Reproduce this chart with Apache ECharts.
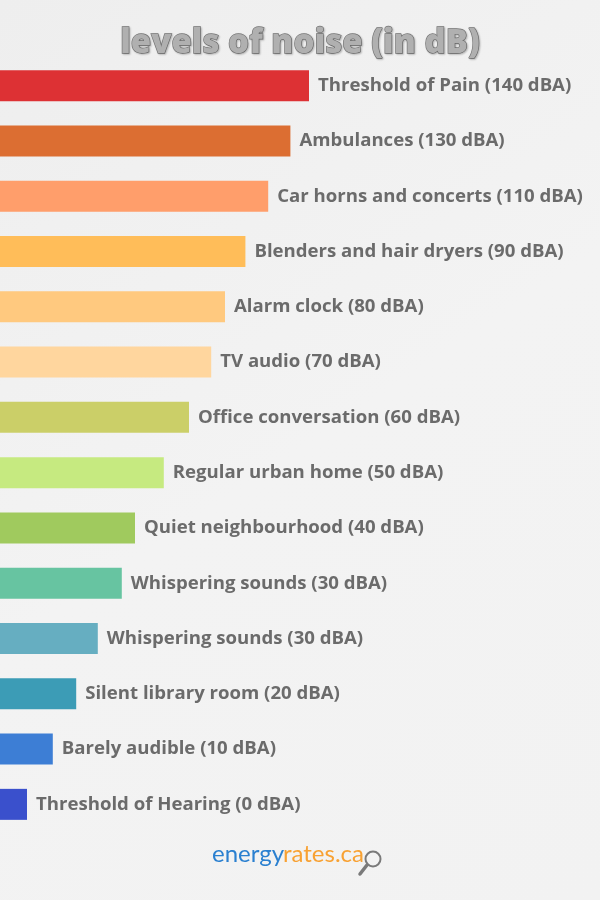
<!DOCTYPE html>
<html>
<head>
    <meta charset="utf-8">
    <title>levels of noise</title>
    <script src="https://cdn.jsdelivr.net/npm/echarts@6/dist/echarts.min.js"></script>
    <style>
        html, body { margin: 0; padding: 0; }
    </style>
</head>
<body>
    <div id="main" style="width: 600px;height:900px;"></div>
<script type="text/javascript">
    // sources, loudest first
    var sources = ['Threshold of Pain', 'Ambulances', 'Car horns and concerts',
        'Blenders and hair dryers', 'Alarm clock', 'TV audio', 'Office conversation',
        'Regular urban home', 'Quiet neighbourhood', 'Whispering sounds',
        'Whispering sounds', 'Silent library room', 'Barely audible', 'Threshold of Hearing'];
    // level written in each label
    var dBA = [140, 130, 110, 90, 80, 70, 60, 50, 40, 30, 30, 20, 10, 0];
    // drawn bar length, as % of the picture width
    var barLength = [51.5, 48.4, 44.7, 40.9, 37.5, 35.2, 31.5, 27.3, 22.5, 20.3, 16.3, 12.7, 8.8, 4.5];
    var barColors = ['#dd3134', '#dc6e32', '#ff9e6b', '#ffbd59', '#ffc97f', '#ffd69e', '#cbcf68',
        '#c6ea80', '#a0ca5e', '#67c4a1', '#66aec1', '#3c9cb6', '#3d7ed5', '#3a50cc'];

    var myChart = echarts.init(document.getElementById('main'));

    var option = {
        backgroundColor: {
            type: 'linear', x: 0, y: 0, x2: 1, y2: 1,
            colorStops: [
                { offset: 0, color: '#eeeeee' },
                { offset: 0.5, color: '#f3f3f3' },
                { offset: 1, color: '#f2f2f2' }
            ]
        },
        animation: false,
        title: {
            text: 'levels of noise (in dB)',
            left: 'center',
            top: 22,
            textStyle: {
                fontFamily: 'Open Sans',
                fontWeight: 800,
                fontSize: 33,
                color: '#b0b0b0',
                textBorderColor: '#767676',
                textBorderWidth: 1.3,
                textShadowColor: 'rgba(0, 0, 0, 0.2)',
                textShadowBlur: 2,
                textShadowOffsetX: 1,
                textShadowOffsetY: 1
            }
        },
        grid: {
            left: 0,
            right: 0,
            top: 58,
            bottom: 68
        },
        xAxis: {
            type: 'value',
            min: 0,
            max: 100,
            show: false
        },
        yAxis: {
            type: 'category',
            inverse: true,
            data: sources,
            show: false
        },
        series: [
            {
                type: 'bar',
                barWidth: 31,
                data: barLength.map(function (v, i) {
                    return { value: v, itemStyle: { color: barColors[i] } };
                }),
                label: {
                    show: true,
                    position: 'right',
                    distance: 9,
                    fontFamily: 'Open Sans',
                    fontWeight: 'bold',
                    fontSize: 18.6,
                    color: '#6b6b6b',
                    formatter: function (p) {
                        return sources[p.dataIndex] + ' (' + dBA[p.dataIndex] + ' dBA)';
                    }
                }
            }
        ],
        graphic: [
            {
                type: 'text',
                left: 212,
                top: 842,
                style: {
                    text: 'energy',
                    fill: '#2b80d0',
                    font: '24px Lato'
                }
            },
            {
                type: 'text',
                left: 283,
                top: 842,
                style: {
                    text: 'rates.ca',
                    fill: '#f8a132',
                    font: '24px Lato'
                }
            },
            {
                type: 'circle',
                shape: { cx: 373, cy: 859, r: 7.5 },
                style: { fill: 'none', stroke: '#7a7a7a', lineWidth: 2 }
            },
            {
                type: 'line',
                shape: { x1: 367, y1: 865, x2: 360, y2: 874 },
                style: { stroke: '#7a7a7a', lineWidth: 3.5, lineCap: 'round' }
            }
        ]
    };
    myChart.setOption(option);
</script>
</body>
</html>
